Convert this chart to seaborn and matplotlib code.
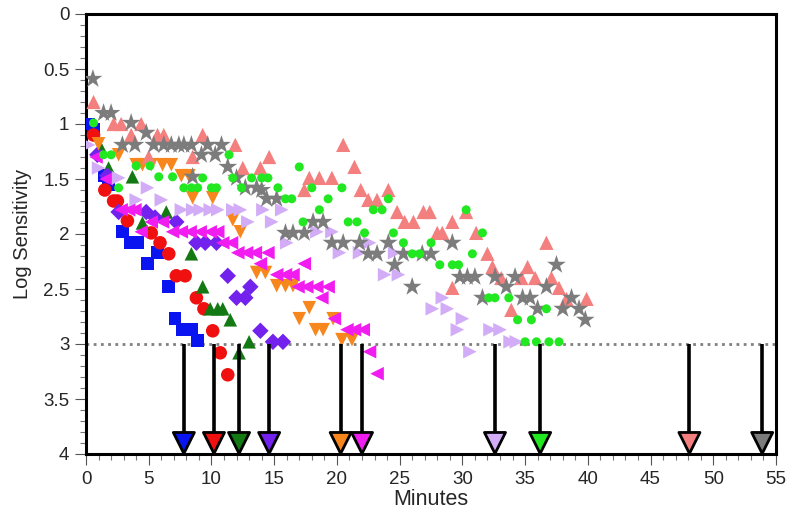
import numpy as np
import pandas as pd
import matplotlib
matplotlib.use("Agg")
import matplotlib.pyplot as plt
from matplotlib.ticker import MultipleLocator, FixedLocator
import seaborn as sns

# ---------------- data ----------------
blue_x = [0.2, 0.6, 1.5, 1.8, 2.9, 3.5, 4.1, 4.9, 5.7, 6.6, 7.1, 7.7, 8.4, 8.9]
blue_y = [1.0, 1.05, 1.47, 1.55, 1.98, 2.08, 2.08, 2.27, 2.17, 2.48, 2.77, 2.87, 2.87, 2.97]

red_x = [0.6, 1.5, 2.2, 2.5, 3.3, 5.2, 5.9, 6.6, 7.2, 7.9, 8.8, 9.4, 10.1, 10.7, 11.3]
red_y = [1.1, 1.6, 1.7, 1.7, 1.88, 1.99, 2.08, 2.18, 2.38, 2.38, 2.58, 2.68, 2.88, 3.08, 3.28]

dkgreen_x = [1.2, 1.8, 3.7, 4.5, 6.4, 8.4, 9.3, 9.9, 10.5, 10.9, 11.5, 12.2, 13.0]
dkgreen_y = [1.22, 1.4, 1.48, 1.9, 1.8, 2.18, 2.48, 2.68, 2.68, 2.68, 2.78, 3.08, 2.98]

purple_x = [0.9, 1.7, 2.6, 4.8, 5.5, 7.2, 8.8, 9.5, 10.4, 11.3, 12.0, 12.7, 13.1, 13.9, 14.9, 15.7]
purple_y = [1.28, 1.47, 1.8, 1.8, 1.85, 1.89, 2.08, 2.08, 2.08, 2.38, 2.58, 2.58, 2.48, 2.88, 2.98, 2.98]

orange_x = [1.0, 2.6, 4.0, 4.5, 5.2, 6.1, 6.8, 7.6, 8.2, 8.5, 10.1, 11.7, 12.3, 13.6, 14.3,
            15.2, 15.9, 16.5, 17.0, 17.8, 18.3, 18.9, 19.7, 20.4, 21.2]
orange_y = [1.18, 1.28, 1.37, 1.37, 1.37, 1.37, 1.37, 1.47, 1.47, 1.67, 1.67, 1.87, 1.98, 2.35, 2.35,
            2.47, 2.47, 2.47, 2.77, 2.67, 2.87, 2.87, 2.77, 2.96, 2.96]

magenta_x = [0.8, 1.6, 2.8, 3.4, 3.9, 4.4, 5.2, 6.1, 6.9, 7.6, 8.3, 9.1, 9.9, 10.5, 10.9, 11.6,
             12.1, 12.8, 13.5, 14.5, 13.9, 15.2, 15.9, 16.5, 17.4, 16.9, 17.6, 18.4, 19.3, 18.8,
             19.8, 20.8, 21.4, 22.1, 22.6, 23.2]
magenta_y = [1.3, 1.5, 1.78, 1.78, 1.78, 1.98, 1.89, 1.89, 1.98, 1.98, 1.98, 1.98, 1.98, 1.98, 2.08, 2.08,
             2.17, 2.17, 2.17, 2.17, 2.27, 2.37, 2.37, 2.37, 2.27, 2.48, 2.48, 2.48, 2.48, 2.58,
             2.77, 2.87, 2.87, 2.87, 3.07, 3.27]

lav_x = [0.2, 1.0, 2.6, 4.0, 4.9, 6.0, 7.6, 8.5, 9.1, 9.9, 10.5, 11.7, 12.3, 12.9, 14.1, 14.8,
         15.6, 16.0, 18.4, 19.6, 20.2, 21.8, 22.6, 23.8, 24.6, 24.9, 27.6, 28.4, 28.8, 29.6,
         30.0, 30.6, 32.2, 33.0, 33.8, 34.3]
lav_y = [1.19, 1.4, 1.49, 1.69, 1.58, 1.69, 1.78, 1.78, 1.78, 1.78, 1.78, 1.78, 1.78, 1.89, 1.78, 1.89,
         1.78, 2.08, 1.98, 1.98, 2.17, 2.17, 2.08, 2.37, 2.17, 2.37, 2.68, 2.58, 2.68, 2.87,
         2.77, 3.07, 2.87, 2.87, 2.98, 2.98]

green_x = [0.6, 1.4, 2.0, 2.6, 4.0, 5.1, 5.8, 6.9, 7.8, 8.4, 8.9, 9.3, 10.0, 10.4, 11.4, 11.7,
           12.4, 13.2, 14.0, 14.5, 15.3, 15.9, 16.4, 17.0, 17.3, 18.0, 18.6, 19.3, 20.4, 20.9,
           21.6, 22.2, 22.9, 23.6, 24.1, 24.5, 25.3, 26.0, 26.6, 27.5, 28.2, 29.2, 29.7, 30.3,
           30.8, 31.6, 32.1, 32.6, 33.7, 34.4, 35.5, 36.7, 35.0, 35.9, 36.9, 37.7]
green_y = [0.99, 1.28, 1.28, 1.58, 1.38, 1.38, 1.48, 1.48, 1.58, 1.58, 1.58, 1.49, 1.58, 1.58, 1.28, 1.49,
           1.58, 1.49, 1.49, 1.49, 1.58, 1.68, 1.68, 1.39, 1.89, 1.58, 1.78, 1.68, 1.58, 1.89,
           1.89, 1.99, 1.78, 1.78, 1.68, 1.99, 2.08, 2.18, 2.18, 2.08, 2.28, 2.28, 2.28, 1.78,
           2.18, 1.99, 2.58, 2.58, 2.58, 2.78, 2.78, 2.68, 2.98, 2.98, 2.98, 2.98]

salmon_x = [0.6, 2.2, 2.8, 3.6, 4.4, 5.0, 5.7, 6.2, 8.5, 9.3, 11.9, 12.5, 13.9, 14.6, 17.4, 17.8,
            18.6, 19.6, 20.5, 21.4, 21.9, 22.5, 23.2, 24.1, 24.8, 25.4, 26.1, 26.9, 27.4, 28.0,
            28.4, 29.2, 29.2, 30.3, 31.1, 32.0, 32.4, 33.1, 33.9, 34.7, 35.2, 35.8, 36.7, 37.1,
            37.7, 38.3, 39.9]
salmon_y = [0.8, 1.0, 1.0, 1.1, 1.0, 1.3, 1.1, 1.1, 1.3, 1.1, 1.19, 1.4, 1.4, 1.3, 1.6, 1.49,
            1.49, 1.49, 1.19, 1.39, 1.6, 1.69, 1.69, 1.6, 1.8, 1.89, 1.89, 1.8, 1.8, 1.99,
            1.99, 1.89, 2.49, 1.8, 1.99, 2.18, 2.3, 2.4, 2.69, 2.4, 2.3, 2.4, 2.08, 2.4,
            2.49, 2.59, 2.59]

gray_x = [0.55, 1.4, 2.0, 2.9, 3.6, 3.9, 4.8, 5.4, 6.2, 6.8, 7.4, 7.8, 8.4, 8.5, 9.2, 9.7,
          10.3, 10.8, 11.3, 12.0, 12.7, 13.6, 14.0, 14.4, 15.2, 15.9, 16.5, 17.4, 18.1, 18.9,
          19.6, 20.5, 21.8, 22.5, 23.2, 24.1, 24.6, 25.3, 26.0, 26.8, 27.5, 29.2, 29.8, 30.4,
          31.0, 31.6, 32.6, 33.5, 34.2, 34.8, 35.4, 36.0, 36.7, 37.5, 38.0, 38.7, 39.3, 39.8]
gray_y = [0.59, 0.9, 0.9, 1.19, 0.99, 1.19, 1.08, 1.19, 1.19, 1.19, 1.19, 1.19, 1.19, 1.48, 1.28, 1.19,
          1.28, 1.19, 1.39, 1.49, 1.58, 1.58, 1.6, 1.68, 1.68, 1.99, 1.99, 1.99, 1.89, 1.89,
          2.08, 2.08, 2.08, 2.18, 2.18, 2.08, 2.28, 2.18, 2.48, 2.18, 2.18, 2.08, 2.39, 2.39,
          2.39, 2.58, 2.39, 2.48, 2.39, 2.58, 2.58, 2.68, 2.48, 2.28, 2.68, 2.58, 2.68, 2.78]

# endpoint arrows (minutes) per series
arrow_names = ["blue", "red", "dkgreen", "purple", "orange", "magenta", "lavender", "green", "salmon", "gray"]
arrow_x = [7.8, 10.2, 12.2, 14.6, 20.3, 22.0, 32.6, 36.2, 48.1, 53.9]
threshold = 3.0

y_ticks = [0, 0.5, 1, 1.5, 2, 2.5, 3, 3.5, 4]
y_tick_labels = ["0", "0.5", "1", "1.5", "2", "2.5", "3", "3.5", "4"]
x_ticks = [0, 5, 10, 15, 20, 25, 30, 35, 40, 45, 50, 55]
x_label = "Minutes"
y_label = "Log Sensitivity"

# ---------------- styling ----------------
series = [
    ("blue", blue_x, blue_y, "#0a14f0", "s", 85),
    ("red", red_x, red_y, "#f01010", "o", 95),
    ("dkgreen", dkgreen_x, dkgreen_y, "#137a13", "^", 95),
    ("purple", purple_x, purple_y, "#7322ee", "D", 70),
    ("orange", orange_x, orange_y, "#f7861c", "v", 95),
    ("magenta", magenta_x, magenta_y, "#f01cf0", "<", 95),
    ("lavender", lav_x, lav_y, "#d2acf6", ">", 95),
    ("salmon", salmon_x, salmon_y, "#f47f7f", "^", 105),
    ("gray", gray_x, gray_y, "#7c7c7c", "*", 200),
    ("green", green_x, green_y, "#22e822", "o", 42),
]

sns.set_style("white")
plt.rcParams["font.family"] = ["Liberation Sans", "DejaVu Sans"]

fig = plt.figure(figsize=(7.91, 5.14), dpi=100)
ax = fig.add_axes([86 / 791, 1 - 454 / 514, (776 - 86) / 791, (454 - 14) / 514])

for name, xs, ys, col, mk, s in series:
    df = pd.DataFrame({"x": xs, "y": ys})
    sns.scatterplot(data=df, x="x", y="y", ax=ax, color=col, marker=mk, s=s,
                    edgecolor="none", linewidth=0, zorder=3)

# threshold dotted line
ax.axhline(threshold, color="#808080", linestyle=(0, (1, 1.6)), linewidth=2.0, zorder=2)

# arrows down to the axis
cmap = {n: c for (n, _, _, c, _, _) in series}
arr_df = pd.DataFrame({"x": arrow_x, "y": [3.9] * len(arrow_x), "name": arrow_names})
for xv in arrow_x:
    ax.plot([xv, xv], [threshold, 3.84], color="black", linewidth=2.6, zorder=4,
            solid_capstyle="butt")
sns.scatterplot(data=arr_df, x="x", y="y", hue="name", palette=cmap, marker="v", s=230,
                edgecolor="black", linewidth=2.0, ax=ax, legend=False, zorder=5)

ax.set_xlim(0, 55)
ax.set_ylim(4, 0)
ax.set_xticks(x_ticks)
ax.set_xticklabels([str(v) for v in x_ticks])
ax.xaxis.set_minor_locator(MultipleLocator(1))
ax.yaxis.set_major_locator(FixedLocator(y_ticks))
ax.set_yticklabels(y_tick_labels)
ax.yaxis.set_minor_locator(MultipleLocator(0.1))

ax.tick_params(axis="both", which="major", direction="out", length=8, width=0.8,
               color="#555555", labelsize=13.5, pad=4, left=True, bottom=True)
ax.tick_params(axis="both", which="minor", direction="out", length=4, width=0.8,
               color="#777777", left=True, bottom=True)

for sp in ax.spines.values():
    sp.set_visible(True)
    sp.set_color("black")
    sp.set_linewidth(2.2)

ax.set_xlabel(x_label, fontsize=15.5, labelpad=1)
ax.set_ylabel(y_label, fontsize=14.5, labelpad=8)
ax.set_facecolor("white")

fig.savefig("out.png", dpi=100, facecolor="white")
